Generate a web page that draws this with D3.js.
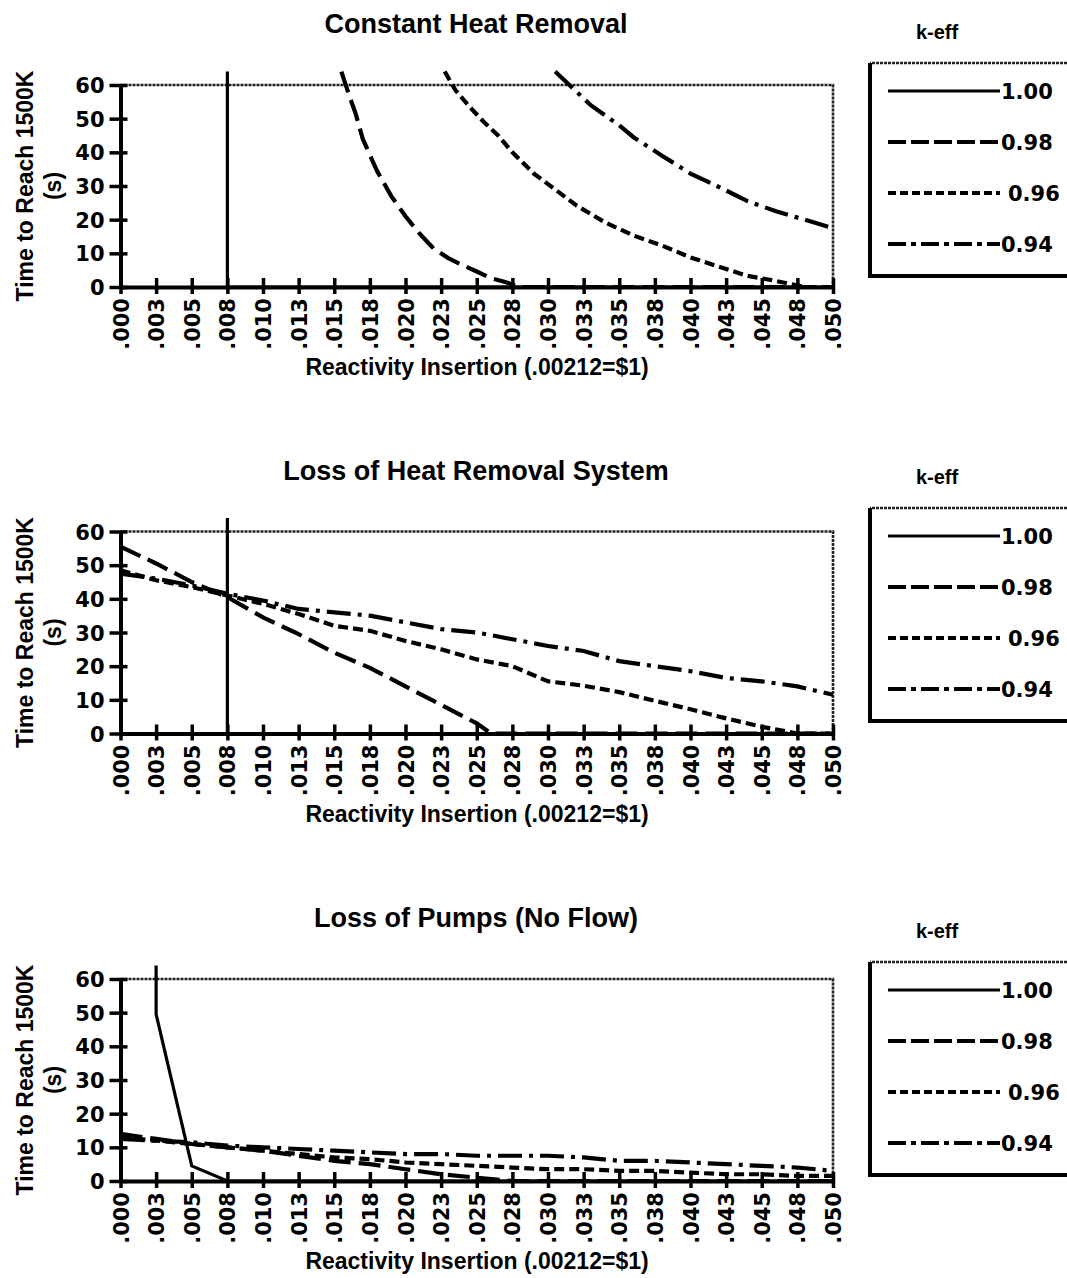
<!DOCTYPE html>
<html>
<head>
<meta charset="utf-8">
<script src="https://cdn.jsdelivr.net/npm/d3@7"></script>
<style>
  body { margin: 0; background: #fff; }
  svg { display: block; }
</style>
</head>
<body>
<div id="container"></div>
<script>
// Reactivity axis: categories every .0025, labels as printed
var xTickValues = [0, 0.0025, 0.005, 0.0075, 0.01, 0.0125, 0.015, 0.0175, 0.02, 0.0225, 0.025,
    0.0275, 0.03, 0.0325, 0.035, 0.0375, 0.04, 0.0425, 0.045, 0.0475, 0.05];
var xTickLabels = ['.000', '.003', '.005', '.008', '.010', '.013', '.015', '.018', '.020', '.023', '.025',
    '.028', '.030', '.033', '.035', '.038', '.040', '.043', '.045', '.048', '.050'];
var yTickValues = [0, 10, 20, 30, 40, 50, 60];
var kEff = ['1.00', '0.98', '0.96', '0.94'];
var chartTitles = ['Constant Heat Removal', 'Loss of Heat Removal System', 'Loss of Pumps (No Flow)'];

// Constant Heat Removal
var chrX100 = [0.0075, 0.0075, 0.05];
var chrY100 = [64, 0, 0];
var chrX098 = [0.0155, 0.016, 0.0165, 0.017, 0.018, 0.019, 0.020, 0.021, 0.022, 0.023, 0.024, 0.025, 0.026, 0.027, 0.028, 0.05];
var chrY098 = [64, 57.5, 51.5, 44, 34.5, 27, 21, 15.8, 11.3, 8.6, 6.5, 4.6, 2.6, 1.5, 0, 0];
var chrX096 = [0.02275, 0.0235, 0.0245, 0.0255, 0.0265, 0.0275, 0.029, 0.0305, 0.032, 0.034, 0.036, 0.038, 0.040, 0.042, 0.044, 0.046, 0.048, 0.05];
var chrY096 = [64, 58.5, 53.5, 49, 45, 40, 33.7, 29, 24.2, 19.2, 15.3, 12.3, 8.8, 6, 3.3, 1.8, 0, 0];
var chrX094 = [0.0305, 0.032, 0.033, 0.035, 0.036, 0.038, 0.040, 0.042, 0.044, 0.046, 0.048, 0.05];
var chrY094 = [64, 58, 54, 48, 44.5, 39, 33.7, 29.7, 25.5, 22.5, 20, 17.5];

// Loss of Heat Removal System
var lhrX100 = [0.0075, 0.0075, 0.05];
var lhrY100 = [64, 0, 0];
var lhrX098 = [0, 0.0025, 0.005, 0.0075, 0.01, 0.0125, 0.015, 0.0175, 0.02, 0.0225, 0.025, 0.026, 0.05];
var lhrY098 = [55.5, 50.5, 45, 40.5, 34.5, 29.5, 24, 19.5, 14, 8.5, 3, 0, 0];
var lhrY096 = [48.5, 45.5, 43.5, 41, 38.5, 35.5, 32, 30.5, 27.5, 25, 22, 20, 15.5, 14.2, 12.3, 9.7, 7.2, 4.5, 2, 0, 0];
var lhrY094 = [47.5, 46, 44, 41.5, 39.5, 37, 36, 35, 33, 31, 30, 28, 26, 24.5, 21.5, 20, 18.5, 16.5, 15.5, 14, 11.5];

// Loss of Pumps (No Flow)
var lopX100 = [0.0025, 0.0025, 0.005, 0.0075, 0.05];
var lopY100 = [64, 49.5, 4.5, 0, 0];
var lopY098 = [14, 12.5, 11, 10, 9, 7.5, 6, 5, 3.5, 2, 1, 0, 0, 0, 0, 0, 0, 0, 0, 0, 0];
var lopY096 = [13, 12, 11, 10, 9, 8, 7, 6.5, 5.5, 5, 4.5, 4, 3.5, 3.5, 3, 3, 2.5, 2, 2, 1.5, 1.5];
var lopY094 = [12.5, 12, 11.5, 10.5, 10, 9.5, 9, 8.5, 8, 8, 7.5, 7.5, 7.5, 7, 6, 6, 5.5, 5, 4.5, 4, 3];

// line styles per k-eff (plot, legend)
var plotDash = [null, '22,8', '10,5', '24,7,4,7'];
var legendDash = [null, '18,5', '8,4', '18,5,5,5'];

var numFont = "'DejaVu Sans', sans-serif";
var wordFont = "'Liberation Sans', Arial, sans-serif";

// Size variables
var width = 1067;
var height = 1278;
var plotLeft = 120.5;
var plotRight = 833;
var plotHeight = 202;

var svg = d3.select('#container')
    .append('svg')
    .attr('width', width)
    .attr('height', height);

var xScale = d3.scaleLinear()
    .domain([0, 0.05])
    .range([plotLeft, plotRight]);

var zip = (xs, ys) => xs.map((x, i) => [x, ys[i]]);

var charts = [
    {
        top: 85, legendTop: 63,
        series: [zip(chrX100, chrY100), zip(chrX098, chrY098), zip(chrX096, chrY096), zip(chrX094, chrY094)]
    },
    {
        top: 531.5, legendTop: 508,
        series: [zip(lhrX100, lhrY100), zip(lhrX098, lhrY098), zip(xTickValues, lhrY096), zip(xTickValues, lhrY094)]
    },
    {
        top: 979, legendTop: 962,
        series: [zip(lopX100, lopY100), zip(xTickValues, lopY098), zip(xTickValues, lopY096), zip(xTickValues, lopY094)]
    }
];

charts.forEach((c, ci) => {
    var top = c.top;
    var bottom = top + plotHeight;
    var g = svg.append('g');

    var yScale = d3.scaleLinear()
        .domain([0, 60])
        .range([bottom, top]);

    // title
    g.append('text')
        .attr('x', 476)
        .attr('y', top - 52)
        .attr('text-anchor', 'middle')
        .style('font-family', wordFont)
        .style('font-weight', 'bold')
        .style('font-size', '27px')
        .text(chartTitles[ci]);

    // plot area border (top and right, dotted)
    g.append('path')
        .attr('d', `M${plotLeft},${top}H${plotRight}V${bottom}`)
        .attr('fill', 'none')
        .attr('stroke', '#222')
        .attr('stroke-width', 2.6)
        .attr('stroke-dasharray', '3,1');

    // y axis
    var yAxis = g.append('g')
        .attr('transform', `translate(${plotLeft},0)`)
        .call(d3.axisLeft(yScale).tickValues(yTickValues).tickSizeOuter(0));
    yAxis.select('.domain').attr('stroke-width', 4);
    yAxis.selectAll('.tick line').attr('x1', 7).attr('x2', -11).attr('stroke-width', 3.5);
    yAxis.selectAll('.tick text')
        .attr('x', -16)
        .attr('dy', '0.36em')
        .style('font-family', numFont)
        .style('font-weight', 'bold')
        .style('font-size', '21px');

    // x axis
    var xAxis = g.append('g')
        .attr('transform', `translate(0,${bottom})`)
        .call(d3.axisBottom(xScale).tickValues(xTickValues)
            .tickFormat((d, i) => xTickLabels[i]).tickSizeOuter(0));
    xAxis.select('.domain').attr('stroke-width', 4);
    xAxis.selectAll('.tick line').attr('y1', -9).attr('y2', 7).attr('stroke-width', 3.5);
    xAxis.selectAll('.tick text')
        .attr('y', 0)
        .attr('x', -11)
        .attr('dy', '0.36em')
        .attr('transform', 'rotate(-90)')
        .style('text-anchor', 'end')
        .style('font-family', numFont)
        .style('font-weight', 'bold')
        .style('font-size', '21px');

    // axis titles
    g.append('text')
        .attr('x', 477)
        .attr('y', bottom + 88)
        .attr('text-anchor', 'middle')
        .style('font-family', wordFont)
        .style('font-weight', 'bold')
        .style('font-size', '23px')
        .text('Reactivity Insertion (.00212=$1)');

    g.append('text')
        .attr('transform', `translate(33,${(top + bottom) / 2}) rotate(-90)`)
        .attr('text-anchor', 'middle')
        .style('font-family', wordFont)
        .style('font-weight', 'bold')
        .style('font-size', '23px')
        .text('Time to Reach 1500K');

    g.append('text')
        .attr('transform', `translate(61,${(top + bottom) / 2}) rotate(-90)`)
        .attr('text-anchor', 'middle')
        .style('font-family', wordFont)
        .style('font-weight', 'bold')
        .style('font-size', '23px')
        .text('(s)');

    // series
    var line = d3.line()
        .x((d) => xScale(d[0]))
        .y((d) => yScale(d[1]));

    c.series.forEach((s, si) => {
        g.append('path')
            .attr('d', line(s))
            .attr('fill', 'none')
            .attr('stroke', '#000')
            .attr('stroke-width', si === 0 ? 3.2 : 4.2)
            .attr('stroke-dasharray', plotDash[si]);
    });

    // legend
    var lt = c.legendTop;
    g.append('text')
        .attr('x', 937)
        .attr('y', lt - 24)
        .attr('text-anchor', 'middle')
        .style('font-family', wordFont)
        .style('font-weight', 'bold')
        .style('font-size', '20px')
        .text('k-eff');

    g.append('path')
        .attr('d', `M1075,${lt}H870`)
        .attr('fill', 'none')
        .attr('stroke', '#222')
        .attr('stroke-width', 2.6)
        .attr('stroke-dasharray', '3,1');
    g.append('path')
        .attr('d', `M870,${lt}V${lt + 213}H1075`)
        .attr('fill', 'none')
        .attr('stroke', '#000')
        .attr('stroke-width', 4);

    kEff.forEach((k, ki) => {
        var ry = lt + 28 + 51 * ki;
        g.append('line')
            .attr('x1', 888)
            .attr('x2', 1000)
            .attr('y1', ry)
            .attr('y2', ry)
            .attr('stroke', '#000')
            .attr('stroke-width', ki === 0 ? 2.8 : 4)
            .attr('stroke-dasharray', legendDash[ki]);
        g.append('text')
            .attr('x', ki === 2 ? 1008 : 1001)
            .attr('y', ry)
            .attr('dy', '0.36em')
            .style('font-family', numFont)
            .style('font-weight', 'bold')
            .style('font-size', '21px')
            .text(k);
    });
});
</script>
</body>
</html>
